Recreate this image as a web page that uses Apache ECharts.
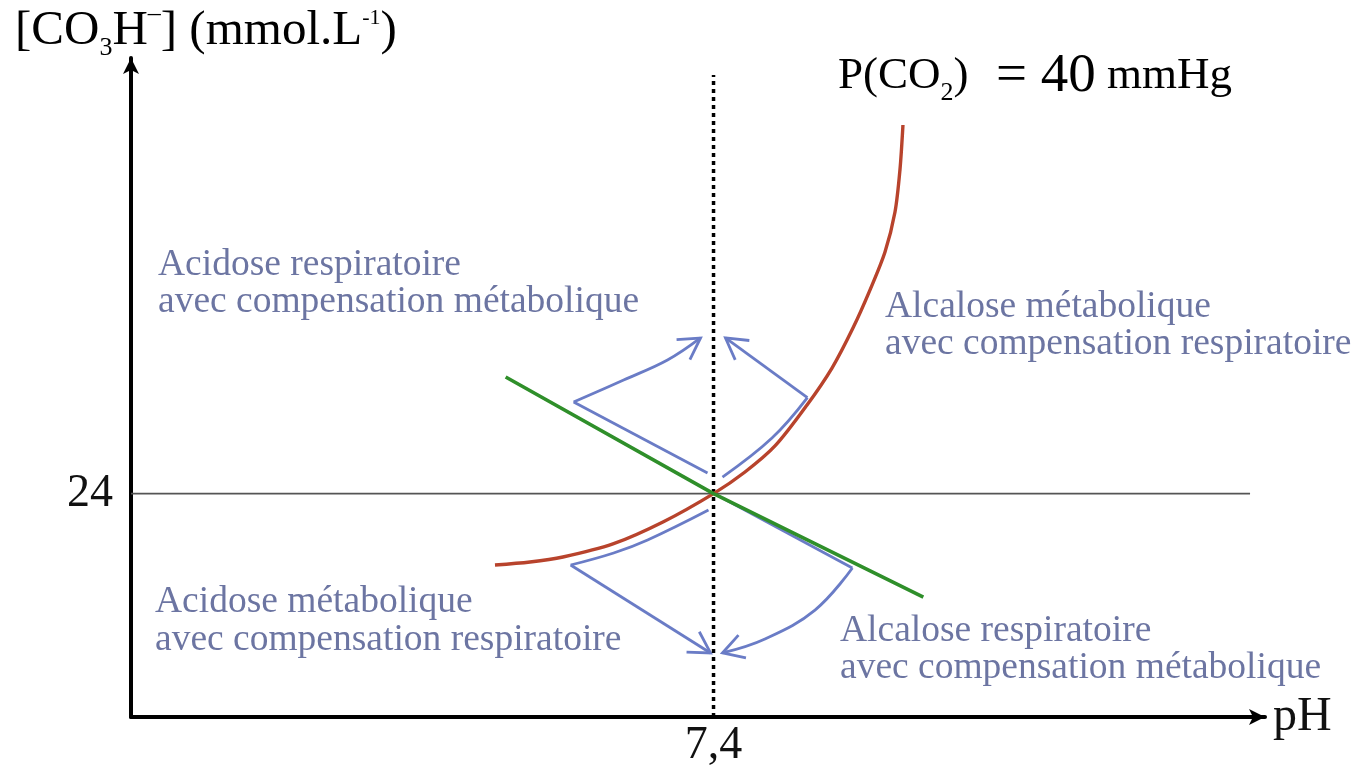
<!DOCTYPE html>
<html><head><meta charset="utf-8">
<script src="https://cdn.jsdelivr.net/npm/echarts@6/dist/echarts.min.js"></script>
<style>html,body{margin:0;padding:0;background:#fff}#c{width:1361px;height:777px}</style>
</head><body><div id="c"></div>
<script>
// ---- data (pH, [HCO3-] mmol/L) ----
const xTickValues = [7.4];          // shown as "7,4"
const yTickValues = [24];
const pco2Isobar = [[7.1749,16.33],[7.2110,16.65],[7.2449,17.19],[7.2964,18.59],[7.3479,20.95],[7.4,24],[7.4324,26.32],[7.4633,29.12],[7.4963,33.52],[7.5220,37.49],[7.5436,41.79],[7.5611,45.87],[7.5766,49.96],[7.5869,54.25],[7.5920,58.77],[7.5951,63.6]];
const bufferLine = [[7.1859,36.53],[7.4,24],[7.6161,12.89]];
const normalPH = [[7.4,0],[7.4,68.97]];
const normalHCO3 = [[6.8,24],[7.9526,24]];
// arrows: segments (straight / curved)
const acidRespStraight = [[7.3938,26.21],[7.2559,33.84]];
const acidRespCurve = [[7.2559,33.84],[7.3074,36.21],[7.3526,38.35],[7.3866,40.72]];
const alcMetCurve = [[7.4092,25.78],[7.4602,29.97],[7.4967,34.31]];
const alcMetStraight = [[7.4967,34.31],[7.4123,40.72]];
const acidMetCurve = [[7.3948,22.24],[7.3321,19.02],[7.2971,17.62],[7.2528,16.33]];
const acidMetStraight = [[7.2528,16.33],[7.3969,6.88]];
const alcRespStraight = [[7.4092,23.53],[7.5430,16.01]];
const alcRespCurve = [[7.5430,16.01],[7.5045,11.49],[7.4530,8.38],[7.4092,6.88]];

const arrows = [
  [{pts: acidRespStraight, smooth: 0}, {pts: acidRespCurve, smooth: 0.4}],
  [{pts: alcMetCurve, smooth: 0.4}, {pts: alcMetStraight, smooth: 0}],
  [{pts: acidMetCurve, smooth: 0.4}, {pts: acidMetStraight, smooth: 0}],
  [{pts: alcRespStraight, smooth: 0}, {pts: alcRespCurve, smooth: 0.4}]
];

const SERIF = '"Liberation Serif", "DejaVu Serif", serif';
const BLUE = '#6a7cc6';
const TXTBLUE = '#6c75a2';

function renderArrow(params, api) {
  const a = arrows[params.dataIndex];
  const children = [];
  let last = null;
  a.forEach(seg => {
    const pts = seg.pts.map(p => api.coord(p));
    children.push({type: 'polyline', shape: {points: pts, smooth: seg.smooth},
      style: {stroke: BLUE, lineWidth: 2.8, fill: null}});
    last = pts;
  });
  const tip = last[last.length - 1], prev = last[last.length - 2];
  let dx = prev[0] - tip[0], dy = prev[1] - tip[1];
  const L = Math.hypot(dx, dy); dx /= L; dy /= L;
  const ang = Math.PI / 6, len = 24;
  const rot = t => [tip[0] + len * (dx * Math.cos(t) - dy * Math.sin(t)),
                    tip[1] + len * (dx * Math.sin(t) + dy * Math.cos(t))];
  children.push({type: 'polyline', shape: {points: [rot(ang), tip, rot(-ang)]},
    style: {stroke: BLUE, lineWidth: 2.8, fill: null}});
  return {type: 'group', children};
}

const chart = echarts.init(document.getElementById('c'));
chart.setOption({
  backgroundColor: '#fff',
  animation: false,
  grid: {left: 131, right: 96, top: 58, bottom: 60},
  xAxis: {
    type: 'value', min: 6.8, max: 7.968,
    name: 'pH', nameLocation: 'end', nameGap: 8,
    nameTextStyle: {fontFamily: SERIF, fontSize: 48, color: '#111'},
    splitLine: {show: false},
    axisTick: {show: false},
    axisLine: {lineStyle: {color: '#000', width: 4}, symbol: ['none', 'arrow'], symbolSize: [12, 16]},
    axisLabel: {customValues: xTickValues, formatter: v => String(v).replace('.', ','),
      fontFamily: SERIF, fontSize: 46, color: '#111', margin: 6}
  },
  yAxis: {
    type: 'value', min: 0, max: 70.8,
    splitLine: {show: false},
    axisTick: {show: false},
    axisLine: {lineStyle: {color: '#000', width: 4}, symbol: ['none', 'arrow'], symbolSize: [12, 16]},
    axisLabel: {customValues: yTickValues, fontFamily: SERIF, fontSize: 46, color: '#111', margin: 18}
  },
  graphic: [
    {type: 'text', left: 15, top: 1, style: {
      text: '{n|[CO}{s|3}{n|H}{p|–}{n|] (mmol.L}{q|-1}{n|)}',
      rich: {
        n: {fontFamily: SERIF, fontSize: 49, color: '#111', lineHeight: 60},
        s: {fontFamily: SERIF, fontSize: 26, color: '#111', verticalAlign: 'bottom'},
        p: {fontFamily: SERIF, fontSize: 26, color: '#111', verticalAlign: 'top'},
        q: {fontFamily: SERIF, fontSize: 22, color: '#111', verticalAlign: 'top', padding: [6, 0, 0, 0]}
      }}},
    {type: 'text', left: 838, top: 49, style: {
      text: '{n|P(CO}{s|2}{n|)}{b|  = 40}{n| mmHg}',
      rich: {
        n: {fontFamily: SERIF, fontSize: 45, color: '#111', lineHeight: 60},
        s: {fontFamily: SERIF, fontSize: 26, color: '#111', verticalAlign: 'bottom'},
        b: {fontFamily: SERIF, fontSize: 55, color: '#111'}
      }}},
    {type: 'text', left: 158, top: 246, style: {text: 'Acidose respiratoire\navec compensation métabolique',
      font: '37.5px ' + SERIF, fill: TXTBLUE, lineHeight: 37}},
    {type: 'text', left: 885, top: 288, style: {text: 'Alcalose métabolique\navec compensation respiratoire',
      font: '37.5px ' + SERIF, fill: TXTBLUE, lineHeight: 37}},
    {type: 'text', left: 155, top: 583, style: {text: 'Acidose métabolique\navec compensation respiratoire',
      font: '37.5px ' + SERIF, fill: TXTBLUE, lineHeight: 38}},
    {type: 'text', left: 840, top: 612, style: {text: 'Alcalose respiratoire\navec compensation métabolique',
      font: '37.5px ' + SERIF, fill: TXTBLUE, lineHeight: 37}}
  ],
  series: [
    {type: 'line', name: 'normal HCO3', data: normalHCO3, symbol: 'none', silent: true,
      lineStyle: {color: '#555', width: 1.6}},
    {type: 'line', name: 'pH 7,4', data: normalPH, symbol: 'none', silent: true,
      lineStyle: {color: '#000', width: 3.5, type: [4, 4]}},
    {type: 'line', name: 'PCO2 40', data: pco2Isobar, symbol: 'none', smooth: 0.3, silent: true,
      lineStyle: {color: '#b8432c', width: 3.4}},
    {type: 'line', name: 'tampon', data: bufferLine, symbol: 'none', silent: true,
      lineStyle: {color: '#2f8f2a', width: 3.6}},
    {type: 'custom', name: 'arrows', silent: true, clip: false,
      data: arrows.map(a => { const s = a[a.length - 1].pts; return s[s.length - 1]; }),
      renderItem: renderArrow}
  ]
});
</script>
</body></html>
